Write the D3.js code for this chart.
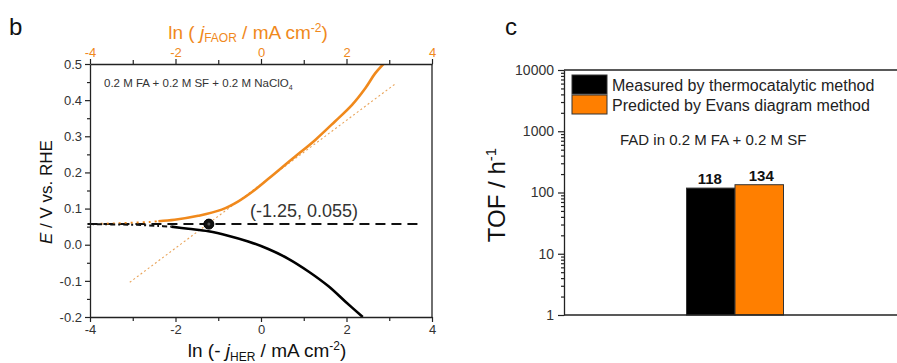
<!DOCTYPE html>
<html><head><meta charset="utf-8">
<script src="https://cdn.jsdelivr.net/npm/d3@7"></script>
<style>
body{margin:0;background:#fff;}
svg{display:block;font-family:"Liberation Sans",Arial,sans-serif;}
</style></head>
<body><svg id="c" width="897" height="363"></svg>
<script>
// ---------- Panel b data ----------
const xTicksMajor = [-4, -2, 0, 2, 4];
const xTicksMinor = [-3, -1, 1, 3];
const yTicksMajor = [-0.2, -0.1, 0.0, 0.1, 0.2, 0.3, 0.4, 0.5];
const yTicksMinor = [-0.15, -0.05, 0.05, 0.15, 0.25, 0.35, 0.45];

// FAOR branch (top axis, ln j_FAOR)
const faorSparseX = [-3.75, -3.4, -3.0, -2.6, -2.4];
const faorSparseE = [0.058, 0.059, 0.061, 0.063, 0.065];
const faorX = [-2.4, -2.02, -1.47, -0.92, -0.53, -0.14, 0.33, 0.80, 1.27, 1.73, 2.13, 2.44, 2.67, 2.88];
const faorE = [0.065, 0.069, 0.080, 0.097, 0.120, 0.152, 0.198, 0.244, 0.290, 0.341, 0.387, 0.433, 0.474, 0.502];
// FAOR Tafel fit
const faorTafelX = [-3.07, 3.14];
const faorTafelE = [-0.104, 0.445];

// HER branch (bottom axis, ln -j_HER)
const herSparseX = [-3.95, -3.4, -2.9, -2.4, -2.1];
const herSparseE = [0.057, 0.056, 0.055, 0.052, 0.050];
const herX = [-2.1, -1.70, -1.23, -0.77, -0.30, 0.17, 0.64, 1.11, 1.58, 1.97, 2.38];
const herE = [0.050, 0.044, 0.037, 0.025, 0.009, -0.012, -0.039, -0.074, -0.115, -0.157, -0.200];

// Corrosion potential line and point
const ecorrLineX = [-4.06, 3.78];
const ecorrLineE = [0.057, 0.057];
const ecorrPoint = {x: -1.22, e: 0.057};
const ecorrLabel = "(-1.25, 0.055)";

// ---------- Panel c data ----------
const tofCategories = ["FAD in 0.2 M FA + 0.2 M SF"];
const tofSeries = ["Measured by thermocatalytic method", "Predicted by Evans diagram method"];
const tofValues = [118, 134];
const tofColors = ["#000000", "#ff7f00"];
const tofTicks = [1, 10, 100, 1000, 10000];

const ORANGE = "#f0891c";
const svg = d3.select("#c");

// ================= Panel b =================
const bx = d3.scaleLinear().domain([-4, 4]).range([90, 432]);
const by = d3.scaleLinear().domain([-0.2, 0.5]).range([317, 64]);

svg.append("text").attr("x", 9).attr("y", 35).attr("font-size", 24).attr("fill", "#111").text("b");

svg.append("clipPath").attr("id", "clipb").append("rect")
  .attr("x", 86).attr("y", 64).attr("width", 346).attr("height", 253);

const plotB = svg.append("g").attr("clip-path", "url(#clipb)");
const lineFn = (xs, ys, curve) => d3.line().x((d, i) => bx(xs[i])).y((d, i) => by(ys[i])).curve(curve || d3.curveLinear)(xs);

plotB.append("path").attr("d", lineFn(faorTafelX, faorTafelE))
  .attr("fill", "none").attr("stroke", "#e9a45a").attr("stroke-width", 1.1).attr("stroke-dasharray", "2,2.5");

plotB.append("path").attr("d", lineFn(ecorrLineX, ecorrLineE))
  .attr("fill", "none").attr("stroke", "#111").attr("stroke-width", 2).attr("stroke-dasharray", "10,6");

plotB.append("path").attr("d", lineFn(faorSparseX, faorSparseE, d3.curveCatmullRom))
  .attr("fill", "none").attr("stroke", ORANGE).attr("stroke-width", 2).attr("stroke-dasharray", "2,4");
plotB.append("path").attr("d", lineFn(herSparseX, herSparseE, d3.curveCatmullRom))
  .attr("fill", "none").attr("stroke", "#111").attr("stroke-width", 2).attr("stroke-dasharray", "2,3,5,3");

plotB.append("path").attr("d", lineFn(faorX, faorE, d3.curveCatmullRom))
  .attr("fill", "none").attr("stroke", ORANGE).attr("stroke-width", 2.6);
plotB.append("path").attr("d", lineFn(herX, herE, d3.curveCatmullRom))
  .attr("fill", "none").attr("stroke", "#000").attr("stroke-width", 2.6);

plotB.append("circle").attr("cx", bx(ecorrPoint.x)).attr("cy", by(ecorrPoint.e)).attr("r", 5)
  .attr("fill", "#111").attr("stroke", "#000").attr("stroke-width", 1);
plotB.append("circle").attr("cx", bx(ecorrPoint.x)).attr("cy", by(ecorrPoint.e)).attr("r", 1.5).attr("fill", "#555");

function styleAxis(g, color) {
  g.select(".domain").attr("stroke", "#222").attr("stroke-width", 1.3);
  g.selectAll(".tick line").attr("stroke", "#222").attr("stroke-width", 1.2);
  g.selectAll(".tick text").attr("fill", color || "#333").attr("font-size", 13)
    .attr("font-family", '"Liberation Sans",Arial,sans-serif');
}
const gBot = svg.append("g").attr("transform", "translate(0,317)")
  .call(d3.axisBottom(bx).tickValues(xTicksMajor).tickSize(5).tickSizeOuter(0).tickPadding(3).tickFormat(d => String(d)));
styleAxis(gBot);
svg.append("g").attr("transform", "translate(0,317)")
  .call(d3.axisBottom(bx).tickValues(xTicksMinor).tickSize(4).tickFormat("")).call(g => { g.select(".domain").remove(); styleAxis(g); });

const gTop = svg.append("g").attr("transform", "translate(0,64)")
  .call(d3.axisTop(bx).tickValues(xTicksMajor).tickSize(5).tickSizeOuter(0).tickPadding(2).tickFormat(d => String(d)));
styleAxis(gTop, ORANGE);
svg.append("g").attr("transform", "translate(0,64)")
  .call(d3.axisTop(bx).tickValues(xTicksMinor).tickSize(4).tickFormat("")).call(g => { g.select(".domain").remove(); styleAxis(g); });

const gLeft = svg.append("g").attr("transform", "translate(90,0)")
  .call(d3.axisLeft(by).tickValues(yTicksMajor).tickSize(5).tickSizeOuter(0).tickPadding(3).tickFormat(d => d.toFixed(1)));
styleAxis(gLeft);
svg.append("g").attr("transform", "translate(90,0)")
  .call(d3.axisLeft(by).tickValues(yTicksMinor).tickSize(3).tickFormat("")).call(g => { g.select(".domain").remove(); styleAxis(g); });
svg.append("line").attr("x1", 432).attr("x2", 432).attr("y1", 64).attr("y2", 317).attr("stroke", "#222").attr("stroke-width", 1.3);

const lb = svg.append("text").attr("x", 267).attr("y", 357).attr("text-anchor", "middle").attr("font-size", 19).attr("fill", "#111");
lb.append("tspan").text("ln (- ");
lb.append("tspan").attr("font-style", "italic").text("j");
lb.append("tspan").attr("font-size", 12).attr("dy", 4).text("HER");
lb.append("tspan").attr("dy", -4).text(" / mA cm");
lb.append("tspan").attr("font-size", 12).attr("dy", -7).text("-2");
lb.append("tspan").attr("dy", 7).text(")");

const lt = svg.append("text").attr("x", 248).attr("y", 39).attr("text-anchor", "middle").attr("font-size", 19).attr("fill", ORANGE);
lt.append("tspan").text("ln ( ");
lt.append("tspan").attr("font-style", "italic").text("j");
lt.append("tspan").attr("font-size", 12).attr("dy", 3).text("FAOR");
lt.append("tspan").attr("dy", -3).text(" / mA cm");
lt.append("tspan").attr("font-size", 12).attr("dy", -7).text("-2");
lt.append("tspan").attr("dy", 7).text(")");

const ly = svg.append("text").attr("transform", "translate(52,192) rotate(-90)").attr("text-anchor", "middle")
  .attr("font-size", 17).attr("fill", "#111");
ly.append("tspan").attr("font-style", "italic").text("E");
ly.append("tspan").text(" / V vs. RHE");

const ann = svg.append("text").attr("x", 104).attr("y", 87).attr("font-size", 11.5).attr("fill", "#333");
ann.append("tspan").text("0.2 M FA + 0.2 M SF + 0.2 M NaClO");
ann.append("tspan").attr("font-size", 7).attr("dy", 3).text("4");

svg.append("text").attr("x", 250).attr("y", 217).attr("font-size", 18).attr("fill", "#333").text(ecorrLabel);

// ================= Panel c =================
svg.append("text").attr("x", 505).attr("y", 35).attr("font-size", 24).attr("fill", "#111").text("c");

const cy = d3.scaleLog().domain([1, 10000]).range([315, 70]);
const cx = d3.scaleBand().domain(tofCategories).range([564, 906]).paddingInner(0).paddingOuter(1.263);
const cs = d3.scaleBand().domain(tofSeries).range([0, cx.bandwidth()]).padding(0);

svg.append("line").attr("x1", 564).attr("x2", 897).attr("y1", 70).attr("y2", 70).attr("stroke", "#222").attr("stroke-width", 1.3);

const gBars = svg.append("g");
tofSeries.forEach((s, i) => {
  const x0 = cx(tofCategories[0]) + cs(s);
  gBars.append("rect").attr("x", x0).attr("y", cy(tofValues[i])).attr("width", cs.bandwidth())
    .attr("height", cy(1) - cy(tofValues[i])).attr("fill", tofColors[i]).attr("stroke", "#333").attr("stroke-width", 1);
  gBars.append("text").attr("x", x0 + cs.bandwidth() / 2 - (i === 0 ? 1 : -2)).attr("y", cy(tofValues[i]) - 4)
    .attr("text-anchor", "middle").attr("font-size", 15).attr("font-weight", "bold").attr("fill", "#111").text(tofValues[i]);
});

const minorLog = [];
for (let dec = 1; dec < 10000; dec *= 10) for (let k = 2; k <= 9; k++) minorLog.push(dec * k);
const gcl = svg.append("g").attr("transform", "translate(564,0)")
  .call(d3.axisLeft(cy).tickValues(tofTicks).tickSize(6).tickSizeOuter(0).tickPadding(4).tickFormat(d => String(d)));
styleAxis(gcl);
gcl.selectAll(".tick text").attr("font-size", 14);
svg.append("g").attr("transform", "translate(564,0)")
  .call(d3.axisLeft(cy).tickValues(minorLog).tickSize(3).tickFormat("")).call(g => { g.select(".domain").remove(); styleAxis(g); });
svg.append("line").attr("x1", 564).attr("x2", 897).attr("y1", 315).attr("y2", 315).attr("stroke", "#222").attr("stroke-width", 1.3);

const lyc = svg.append("text").attr("transform", "translate(505,195) rotate(-90)").attr("text-anchor", "middle")
  .attr("font-size", 24).attr("fill", "#111");
lyc.append("tspan").text("TOF / h");
lyc.append("tspan").attr("font-size", 15).attr("dy", -9).text("-1");

tofSeries.forEach((s, i) => {
  svg.append("rect").attr("x", 572).attr("y", 75 + i * 20).attr("width", 35).attr("height", 19)
    .attr("fill", tofColors[i]).attr("stroke", "#333").attr("stroke-width", 1);
  svg.append("text").attr("x", 612).attr("y", 91 + i * 19.5).attr("font-size", 16).attr("fill", "#222").text(s);
});
svg.append("text").attr("x", 620).attr("y", 145).attr("font-size", 15).attr("fill", "#222").text(tofCategories[0]);
</script></body></html>
